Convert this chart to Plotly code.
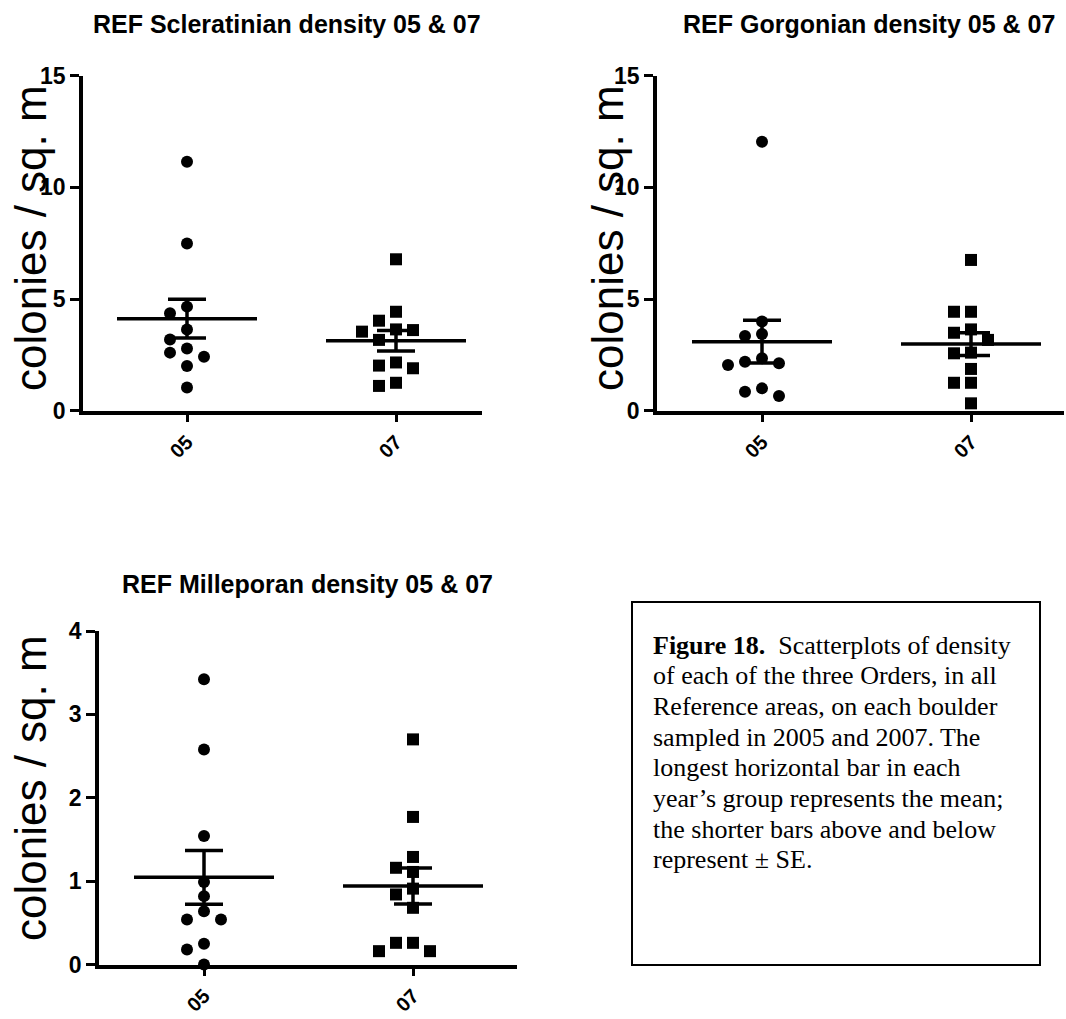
import numpy as np
import plotly.graph_objects as go

# ---------------- data ----------------
categories = ["05", "07"]

scler_05 = [11.15, 7.49, 4.66, 4.36, 3.64, 3.19, 2.78, 2.60, 2.42, 2.00, 1.04]
scler_07 = [6.78, 4.43, 4.03, 3.64, 3.61, 3.54, 3.17, 2.16, 2.02, 1.90, 1.25, 1.11]

gorg_05 = [12.04, 3.99, 3.43, 3.34, 2.35, 2.19, 2.12, 2.05, 1.00, 0.85, 0.66]
gorg_07 = [6.75, 4.43, 4.43, 3.64, 3.49, 3.17, 2.60, 2.57, 1.87, 1.25, 1.25, 0.33]

mille_05 = [3.42, 2.58, 1.54, 0.99, 0.82, 0.64, 0.54, 0.54, 0.25, 0.18, 0.00]
mille_07 = [2.70, 1.77, 1.29, 1.16, 1.11, 0.91, 0.84, 0.68, 0.26, 0.26, 0.16, 0.16]

y_ticks_big = [0, 5, 10, 15]
y_ticks_mille = [0, 1, 2, 3, 4]

titles = [
    "REF Scleratinian density 05 & 07",
    "REF Gorgonian density 05 & 07",
    "REF Milleporan density 05 & 07",
]
y_title = "colonies / sq. m"

caption_lines = [
    "<b>Figure 18.</b>&nbsp; Scatterplots of density",
    "of each of the three Orders, in all",
    "Reference areas, on each boulder",
    "sampled in 2005 and 2007. The",
    "longest horizontal bar in each",
    "year\u2019s group represents the mean;",
    "the shorter bars above and below",
    "represent \u00b1 SE.",
]

# ---------------- layout geometry (pixels) ----------------
W, H = 1066, 1019
SANS = "Liberation Sans, Arial, sans-serif"
NARROW = "Liberation Sans Narrow, Arial Narrow, Liberation Sans, Arial, sans-serif"
SERIF = "Liberation Serif, Times New Roman, serif"
MARKER_PX = 12
SLOT_PX = 17
MEAN_HALF_PX = 70
CAP_HALF_PX = 19


def fx(p):
    return p / W


def fy(p):
    return 1 - p / H


panels = [
    dict(data=(scler_05, scler_07), title=titles[0], x0=83, x1=482,
         ytop=75.7, ybot=410.7, ymax=15, ticks=y_ticks_big,
         cats=(187, 396), title_xy=(287, 24), ytitle_xy=(30, 238)),
    dict(data=(gorg_05, gorg_07), title=titles[1], x0=657, x1=1064,
         ytop=75.7, ybot=410.7, ymax=15, ticks=y_ticks_big,
         cats=(762, 971), title_xy=(869, 24), ytitle_xy=(607, 238)),
    dict(data=(mille_05, mille_07), title=titles[2], x0=99, x1=517,
         ytop=631, ybot=964.5, ymax=4, ticks=y_ticks_mille,
         cats=(204, 413), title_xy=(307, 584), ytitle_xy=(30, 788)),
]


def swarm(values, h):
    """Deterministic beeswarm: integer slot for each point."""
    order = sorted(range(len(values)), key=lambda i: -values[i])
    used = {}
    out = [0] * len(values)
    seq = [0, -1, 1, -2, 2, -3, 3, -4, 4]
    for i in order:
        v = values[i]
        for s in seq:
            if all(abs(v - w) >= h for w in used.get(s, [])):
                used.setdefault(s, []).append(v)
                out[i] = s
                break
    return out


fig = go.Figure()
annotations = []
layout_axes = {}

for k, p in enumerate(panels):
    ax = "" if k == 0 else str(k + 1)
    xref, yref = "x" + ax, "y" + ax
    unit = p["cats"][1] - p["cats"][0]
    x_lo = 1 - (p["cats"][0] - p["x0"]) / unit
    x_hi = 2 + (p["x1"] - p["cats"][1]) / unit
    py_per_unit = (p["ybot"] - p["ytop"]) / p["ymax"]
    h = MARKER_PX / py_per_unit * 0.95
    slot = SLOT_PX / unit
    mean_half = MEAN_HALF_PX / unit
    cap_half = CAP_HALF_PX / unit

    for j, vals in enumerate(p["data"]):
        xc = j + 1
        offs = swarm(vals, h)
        fig.add_trace(go.Scatter(
            x=[xc + o * slot for o in offs], y=vals, mode="markers",
            marker=dict(symbol="circle" if j == 0 else "square",
                        size=MARKER_PX, color="black", line=dict(width=0)),
            xaxis=xref, yaxis=yref, cliponaxis=False, showlegend=False,
            hoverinfo="y"))
        arr = np.array(vals)
        m = arr.mean()
        se = arr.std(ddof=1) / np.sqrt(len(arr))
        lx = [xc - mean_half, xc + mean_half, None,
              xc, xc, None,
              xc - cap_half, xc + cap_half, None,
              xc - cap_half, xc + cap_half]
        ly = [m, m, None,
              m - se, m + se, None,
              m + se, m + se, None,
              m - se, m - se]
        fig.add_trace(go.Scatter(
            x=lx, y=ly, mode="lines", line=dict(color="black", width=3.5),
            xaxis=xref, yaxis=yref, cliponaxis=False, showlegend=False,
            hoverinfo="skip"))

    layout_axes["xaxis" + ax] = dict(
        domain=[fx(p["x0"]), fx(p["x1"])], range=[x_lo, x_hi],
        anchor=yref, showline=True, linecolor="black", linewidth=3.5,
        ticks="outside", ticklen=8, tickwidth=3, tickcolor="black",
        tickvals=[1, 2], ticktext=categories, tickangle=-45,
        tickfont=dict(family=NARROW, size=20, color="black", weight="bold"),
        showgrid=False, zeroline=False, fixedrange=True, automargin=False)
    layout_axes["yaxis" + ax] = dict(
        domain=[fy(p["ybot"]), fy(p["ytop"])], range=[0, p["ymax"]],
        anchor=xref, showline=True, linecolor="black", linewidth=3.5,
        ticks="outside", ticklen=9, tickwidth=3, tickcolor="black",
        tickvals=p["ticks"],
        tickfont=dict(family=NARROW, size=23, color="black", weight="bold"),
        showgrid=False, zeroline=False, fixedrange=True, automargin=False)

    annotations.append(dict(
        text="<b>" + p["title"] + "</b>", xref="paper", yref="paper",
        x=fx(p["title_xy"][0]), y=fy(p["title_xy"][1]),
        xanchor="center", yanchor="middle", showarrow=False,
        font=dict(family=SANS, size=25, color="black")))
    annotations.append(dict(
        text=y_title, xref="paper", yref="paper",
        x=fx(p["ytitle_xy"][0]), y=fy(p["ytitle_xy"][1]),
        xanchor="center", yanchor="middle", showarrow=False, textangle=-90,
        font=dict(family=SANS, size=44, color="black")))

# caption box
CAP_X = 651
CAP_BASE0 = 653
CAP_STEP = 30.7
for i, line in enumerate(caption_lines):
    annotations.append(dict(
        text=line, xref="paper", yref="paper",
        x=fx(CAP_X), y=fy(CAP_BASE0 + i * CAP_STEP - 8),
        xanchor="left", yanchor="middle", showarrow=False, align="left",
        font=dict(family=SERIF, size=26, color="black")))

shapes = [dict(type="rect", xref="paper", yref="paper",
               x0=fx(632), x1=fx(1040), y0=fy(965), y1=fy(602),
               line=dict(color="black", width=2), fillcolor="rgba(0,0,0,0)")]

fig.update_layout(
    width=W, height=H, margin=dict(l=0, r=0, t=0, b=0, pad=0, autoexpand=False),
    paper_bgcolor="white", plot_bgcolor="white",
    annotations=annotations, shapes=shapes, showlegend=False,
    **layout_axes)

fig.write_html(
    "out.html",
    config={"displayModeBar": False},
    post_script="document.body.style.margin='0';document.body.style.overflow='hidden';",
)
